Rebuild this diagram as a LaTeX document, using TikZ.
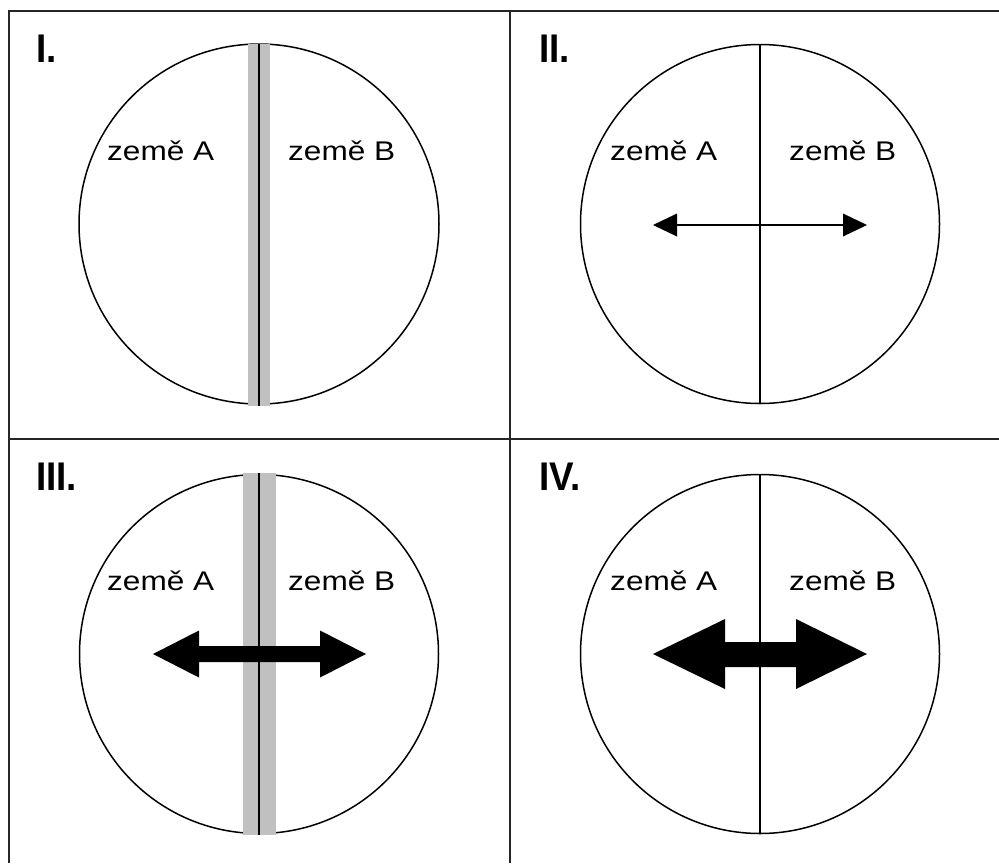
\documentclass[tikz,border=0pt]{standalone}
\usepackage{fontspec}
\setmainfont{Liberation Sans}
\usepackage{graphicx}
\definecolor{bandgrey}{HTML}{C0C0C0}
\begin{document}
\begin{tikzpicture}[x=1pt,y=-1pt,
  frame/.style={line width=2pt,draw=black!85},
  ring/.style={line width=1.5pt,draw=black},
  divider/.style={line width=1.5pt,draw=black},
  band/.style={fill=bandgrey,draw=none},
  headarrow/.style={fill=black,draw=none},
  land/.style={anchor=base west,inner sep=0pt,font=\fontsize{27}{27}\selectfont},
  panel/.style={anchor=base west,inner sep=0pt,font=\fontsize{40}{40}\selectfont\bfseries}]
\useasboundingbox (0,0) rectangle (999,863);
% frame
\coordinate (tl) at (9,11);
\coordinate (tr) at (999,11);
\coordinate (bl) at (9,863);
\coordinate (mt) at (510,11);
\coordinate (mb) at (510,863);
\coordinate (ml) at (9,439);
\coordinate (mr) at (999,439);
\draw[frame] (tr) -- (tl) -- (bl);
\draw[frame] (mt) -- (mb);
\draw[frame] (ml) -- (mr);
% circles
\node[ring,circle,minimum size=360pt,inner sep=0pt] (c1) at (259,224) {};
\node[ring,circle,minimum size=359pt,inner sep=0pt] (c2) at (760,224) {};
\node[ring,circle,minimum size=359pt,inner sep=0pt] (c3) at (259,654) {};
\node[ring,circle,minimum size=359pt,inner sep=0pt] (c4) at (760,654) {};
% panel I band
\fill[band] (248,44) rectangle (270,406);
\draw[divider] (259,44) -- (259,406);
% panel III band
\fill[band] (243,473) rectangle (276,835);
\draw[divider] (259,473) -- (259,835);
% panel II / IV lines
\draw[divider] (c2.north) -- (c2.south);
\draw[divider] (c4.north) -- (c4.south);
% arrows
% II thin
\draw[line width=1.5pt] (675,225) -- (845,225);
\fill[headarrow] (653,225) -- (677,213.5) -- (677,236.5) -- cycle;
\fill[headarrow] (867,225) -- (843,213.5) -- (843,236.5) -- cycle;
% III medium
\fill[headarrow] (153,654) -- (199,630.5) -- (199,646) -- (320,646) -- (320,630.5) -- (366,654)
  -- (320,677.5) -- (320,662) -- (199,662) -- (199,677.5) -- cycle;
% IV thick
\fill[headarrow] (653,654) -- (725,619) -- (725,642) -- (796,642) -- (796,619) -- (867,654)
  -- (796,689) -- (796,667) -- (725,667) -- (725,689) -- cycle;
% labels
\node[panel] (l1) at (36,62) {\scalebox{0.92}[1]{I.}};
\node[panel] (l2) at (539,62) {\scalebox{0.92}[1]{II.}};
\node[panel] (l3) at (36,490) {\scalebox{0.92}[1]{III.}};
\node[panel] (l4) at (539,490) {\scalebox{0.92}[1]{IV.}};
% land names
\node[land] (a1) at (107,160) {\scalebox{1.17}[1]{země A}};
\node[land] (b1) at (288,160) {\scalebox{1.17}[1]{země B}};
\node[land] (a2) at (610,160) {\scalebox{1.17}[1]{země A}};
\node[land] (b2) at (789,160) {\scalebox{1.17}[1]{země B}};
\node[land] (a3) at (107,590) {\scalebox{1.17}[1]{země A}};
\node[land] (b3) at (288,590) {\scalebox{1.17}[1]{země B}};
\node[land] (a4) at (610,590) {\scalebox{1.17}[1]{země A}};
\node[land] (b4) at (789,590) {\scalebox{1.17}[1]{země B}};
\end{tikzpicture}
\end{document}
